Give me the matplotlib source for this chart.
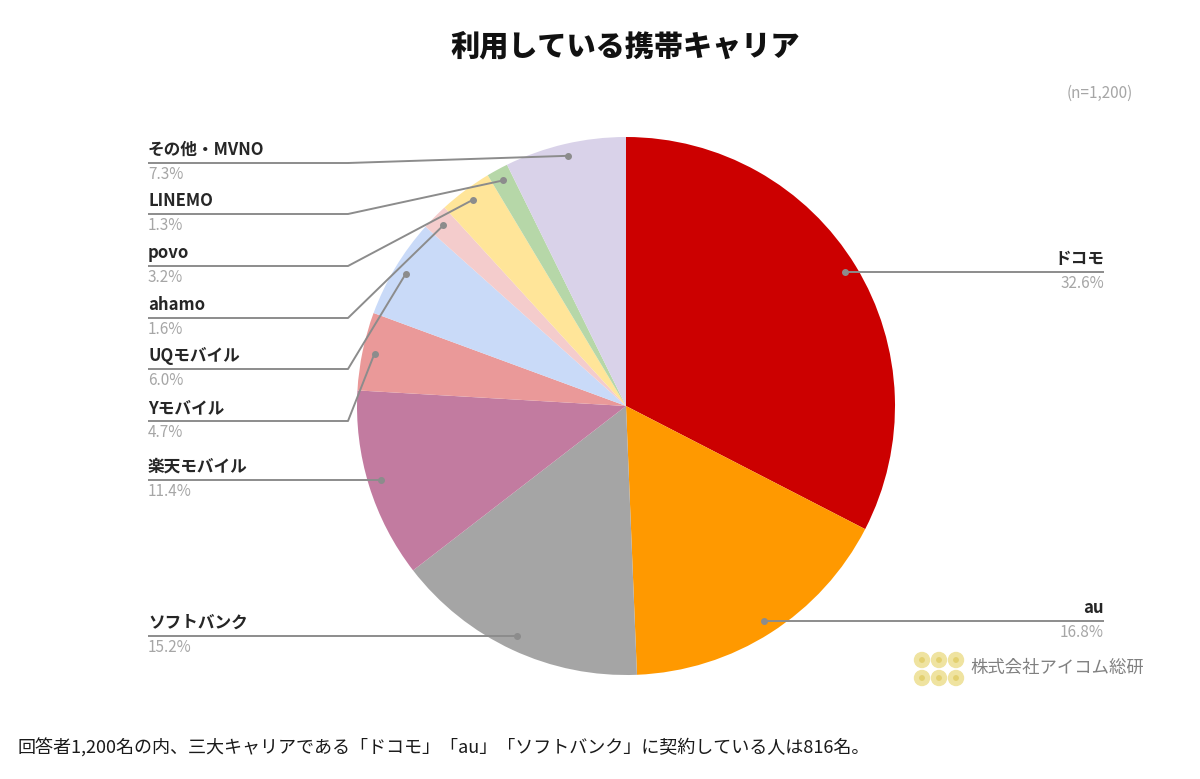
import numpy as np
import matplotlib.pyplot as plt
from matplotlib.patches import Circle

plt.rcParams['font.family'] = ['Noto Sans CJK JP', 'DejaVu Sans']

# data
carriers = ["ドコモ", "au", "ソフトバンク", "楽天モバイル", "Yモバイル",
            "UQモバイル", "ahamo", "povo", "LINEMO", "その他・MVNO"]
shares = [32.6, 16.8, 15.2, 11.4, 4.7, 6.0, 1.6, 3.2, 1.3, 7.3]
colors = ["#CC0000", "#FF9900", "#A5A5A5", "#C27BA0", "#EA9999",
          "#C9DAF8", "#F4CCCC", "#FFE599", "#B6D7A8", "#D9D2E9"]

W, H = 1200, 779
CX, CY, R = 626, 406, 269   # pie centre/radius in image px


def fy(y):
    # image y (down) -> axes y (up)
    return H - y


fig = plt.figure(figsize=(W / 100, H / 100), dpi=100)
ax = fig.add_axes([0, 0, 1, 1])

wedges, _ = ax.pie(shares, colors=colors, startangle=90, counterclock=False,
                   center=(CX, fy(CY)), radius=R,
                   wedgeprops=dict(linewidth=0))
ax.set_xlim(0, W)
ax.set_ylim(0, H)
ax.set_aspect("equal")
ax.axis("off")

# label layout: (side, line y in image px)
layout = {
    "ドコモ": ("R", 272),
    "au": ("R", 621),
    "ソフトバンク": ("L", 636),
    "楽天モバイル": ("L", 480),
    "Yモバイル": ("L", 421),
    "UQモバイル": ("L", 369),
    "ahamo": ("L", 318),
    "povo": ("L", 266),
    "LINEMO": ("L", 214),
    "その他・MVNO": ("L", 163),
}

line_col = "#8C8C8C"
for w, name, val in zip(wedges, carriers, shares):
    ang = np.deg2rad((w.theta1 + w.theta2) / 2)
    px = CX + 0.955 * R * np.cos(ang)
    py = fy(CY) + 0.955 * R * np.sin(ang)
    side, ly = layout[name]
    ly = fy(ly)
    if side == "R":
        xs, ys = [px, 1104], [ly, ly]
        tx, ha = 1104, "right"
    else:
        if abs(py - ly) <= 6:
            xs, ys = [148, px], [ly, ly]
        else:
            xs, ys = [148, 348, px], [ly, ly, py]
        tx, ha = 148, "left"
    dot_x = px
    dot_y = ys[0] if side == "R" else ys[-1]
    ax.plot(xs, ys, color=line_col, lw=1.4, solid_capstyle="butt", zorder=3)
    ax.plot([dot_x], [dot_y], "o", color=line_col, ms=4, zorder=4)
    ax.text(tx, ly + 4, name, ha=ha, va="bottom", fontsize=12,
            fontweight="bold", color="#262626")
    ax.text(tx, ly - 3, f"{val}%", ha=ha, va="top", fontsize=11,
            color="#A6A6A6")

ax.text(625, fy(47), "利用している携帯キャリア", ha="center", va="center",
        fontsize=21, fontweight="heavy", color="#111111")
ax.text(1133, fy(93), "(n=1,200)", ha="right", va="center", fontsize=11,
        color="#A6A6A6")

# logo
for lx in (922, 939, 956):
    for lyy in (660, 678):
        ax.add_patch(Circle((lx, fy(lyy)), 7.5, color="#EFE3A0", zorder=5))
        ax.add_patch(Circle((lx, fy(lyy)), 2.2, color="#E3D070", zorder=6))
ax.text(970, fy(668), "株式会社アイコム総研", ha="left", va="center",
        fontsize=12.5, color="#808080")

ax.text(18, fy(748), "回答者1,200名の内、三大キャリアである「ドコモ」「au」「ソフトバンク」に契約している人は816名。",
        ha="left", va="center", fontsize=13, color="#1A1A1A")

fig.savefig("out.png", dpi=100)
